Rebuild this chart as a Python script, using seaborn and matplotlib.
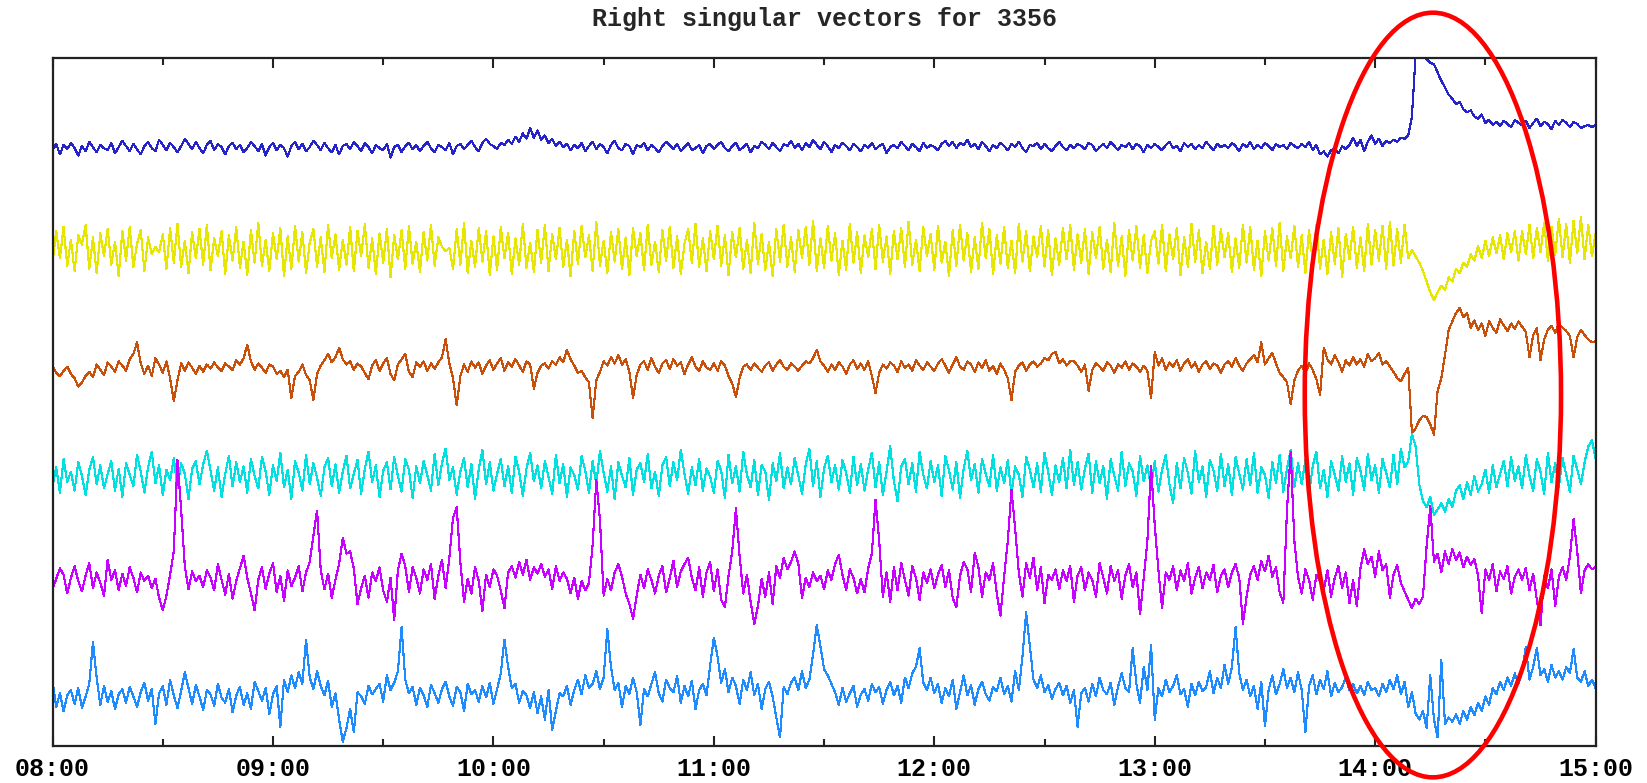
import matplotlib
matplotlib.use("Agg")
import matplotlib.pyplot as plt
from matplotlib.patches import Ellipse
import numpy as np
import pandas as pd
import seaborn as sns

# ---------------------------------------------------------------------------
# Data (one value per minute, 08:00 .. 15:00, deviation of each vector)
# ---------------------------------------------------------------------------
TITLE = "Right singular vectors for 3356"
HOUR_LABELS = ["08:00", "09:00", "10:00", "11:00", "12:00", "13:00", "14:00", "15:00"]
START_HOUR = 8

BLUE = [
    -2, 4, -6, 3, -1, 5, 0, -7, 2, -3, 6, 1, -4, 3, 0, -2, 5, -5, 1, 7,
    2, -3, 4, -1, -6, 2, 6, 0, -3, 8, 3, -2, 5, 1, -4, 2, 9, 4, -1, 6,
    0, -5, 3, 7, -2, 4, 1, -6, 2, 5, -1, 3, -4, 0, 6, 2, -3, 4, -7, 1,
    5, -2, 3, 0, -8, 2, 6, -1, 4, -3, 1, 7, 3, -2, 5, 0, -4, 3, -6, 2,
    4, -1, 6, 2, -3, 5, 1, -5, 3, 0, -2, 4, -9, 1, 3, -4, 2, 5, -1, 3,
    -3, 2, 6, 0, -4, 3, 1, -2, 5, -6, 2, 4, -1, 3, 7, 1, -3, 5, 9, 4,
    2, -1, 5, 3, 8, 4, 11, 6, 14, 9, 19, 10, 17, 8, 12, 5, 9, 2, 6, 1,
    4, -2, 3, 0, 5, -3, 2, 6, -1, 4, 1, -5, 3, 7, 0, -2, 4, 2, -6, 3,
    1, 5, -2, 3, 0, -4, 2, 6, 3, -1, 4, -3, 1, 5, -2, 0, 3, -5, 2, 4,
    -1, 3, 6, 0, -3, 2, 5, -2, 1, 4, -4, 2, 0, 6, 3, -1, 5, 1, -3, 4,
    2, 7, 0, 4, -2, 5, 1, 8, 3, -1, 6, 2, -4, 3, 0, 5, 2, -2, 4, 1,
    -3, 3, 0, 5, -1, 2, 4, -5, 1, 3, 0, 6, 2, -2, 4, 1, -3, 5, 0, 3,
    1, -2, 4, 7, 2, 6, 0, 5, 3, 8, 1, 4, -1, 6, 2, -3, 3, 0, 5, 2,
    -2, 4, 1, 6, 0, -4, 3, 2, 5, -1, 4, 0, -3, 2, 6, 1, -2, 3, 0, 4,
    2, -1, 5, 3, -3, 1, 4, 0, 6, 2, -2, 3, 1, 5, -1, 4, 2, -4, 3, 0,
    4, 1, -2, 3, 6, 0, 2, -3, 5, 1, 4, -1, 3, 0, 6, 2, -2, 4, 1, 3,
    0, 5, 2, -3, 4, 1, 6, -1, 3, 0, 5, 2, -2, 4, 1, 3, -1, 5, 2, 0,
    4, 1, 6, -2, 3, -6, -3, -8, -2, 0, -5, 2, -1, 3, 10, 2, 8, -3, 6, 12,
    4, 9, 2, 7, 5, 8, 6, 10, 9, 12, 30, 88, 90, 86, 85, 81, 80, 72, 64, 58,
    51, 47, 42, 44, 37, 34, 36, 30, 28, 32, 24, 27, 22, 25, 21, 26, 23, 20, 27, 24,
    22, 26, 19, 24, 28, 21, 25, 23, 18, 26, 22, 27, 24, 20, 25, 23, 19, 21, 22, 20,
    22,
]

YELLOW = [
    -12, 18, -8, 22, -15, 10, -20, 14, 5, 24, -18, 12, -22, 16, -6, 20, -14, 8, -25, 18,
    -10, 22, -16, 6, 19, -20, 12, -4, 3, -2, 15, -18, 21, -12, 25, -16, 9, -22, 17, -8,
    20, -14, 24, -19, 11, -6, 18, -23, 14, -10, 22, -17, 8, -24, 19, -12, 26, -15, 10, -20,
    16, -9, 21, -25, 13, -18, 23, -11, 17, -22, 7, 20, -16, 12, -21, 24, -8, 15, -19, 10,
    -14, 22, -20, 18, -6, 25, -17, 11, -23, 16, -12, 20, -26, 14, -9, 19, -18, 23, -13, 8,
    -21, 17, -10, 24, -15, 12, 3, -1, 2, -18, 20, -14, 26, -22, 9, -16, 21, -11, 18, -24,
    13, -19, 22, -8, 16, -23, 11, -14, 25, -17, 7, -21, 19, -12, 24, -20, 15, -9, 21, -16,
    10, -25, 18, -13, 23, -7, 14, -20, 27, -15, 9, -22, 17, -11, 20, -18, 12, -24, 21, -6,
    16, -19, 24, -14, 8, -21, 19, -10, 22, -17, 13, -23, 6, 20, -12, 25, -16, 11, -20, 18,
    -9, 23, -15, 14, -24, 17, -7, 21, -18, 10, -22, 26, -13, 15, -19, 8, -25, 20, -11, 24,
    -16, 12, -21, 19, -8, 22, -14, 28, -20, 11, -17, 23, -10, 16, -24, 9, -19, 25, -12, 17,
    -22, 14, -7, 20, -18, 24, -11, 13, -23, 18, -9, 21, -16, 27, -14, 10, -20, 22, -6, 15,
    -19, 23, -12, 8, -25, 19, -15, 24, -10, 16, -21, 12, -18, 26, -8, 20, -23, 14, -13, 22,
    -17, 9, -22, 25, -11, 18, -20, 13, -7, 23, -16, 19, -24, 11, -14, 21, -9, 24, -19, 15,
    -12, 20, -23, 17, -8, 22, -18, 10, -21, 26, -15, 13, -25, 19, -10, 23, -17, 14, -22, 9,
    18, -13, 24, -20, 15, -9, 21, -24, 12, -16, 25, -11, 19, -22, 8, -18, 23, -14, 20, -7,
    16, -21, 11, -17, 24, -12, 22, -19, 9, -25, 18, -10, 21, -15, 26, -20, 13, -8, 23, -16,
    14, -22, 19, -11, 24, -18, 10, -23, 17, -13, 21, -26, 15, -9, 22, -17, 12, -20, 25, -14,
    19, -10, 23, -18, 27, -15, 20, -12, 24, -8, 0, -6, -12, -20, -30, -40, -48, -40, -34, -38,
    -26, -30, -18, -22, -12, -16, -4, -10, 4, -8, 9, -6, 12, -3, 14, -9, 16, -2, 18, -10,
    18, -4, 24, -8, 21, -2, 26, -10, 22, -5, 30, -7, 25, -12, 28, -3, 31, -9, 24, -6,
    16,
]

ORANGE = [
    2, -5, -8, -3, 1, -6, -10, -18, -14, -8, -4, -9, 3, -2, -7, 5, 1, -4, 6, 2,
    -3, 8, 13, 24, 4, -6, 2, -8, 9, 3, -5, 6, -10, -32, -12, 4, -3, 5, 0, -6,
    2, -4, 3, -1, 5, 0, -3, 4, 1, -2, 7, 3, 9, 22, 6, -2, 4, 0, -5, 3,
    1, -6, -3, -9, -2, -29, -8, -4, 3, -7, -12, -31, -6, 2, 7, 13, 5, 10, 19, 8,
    3, 6, -2, 4, 1, -5, -11, 2, 7, -3, 4, 9, -6, -12, 3, 8, 13, -4, -9, 5,
    1, 6, -3, 4, -1, 5, 10, 27, 4, -10, -36, -8, 3, -4, 6, 0, 5, -6, 2, 7,
    -2, 4, 9, -3, 5, 1, 8, 2, -4, 6, 3, -20, -5, 2, 4, -1, 6, 3, 10, 5,
    17, 8, 2, -5, -3, -9, -14, -48, -12, -4, 6, 2, 10, 4, 12, 3, 8, -4, -29, -7,
    3, 6, -2, 9, 1, -5, 4, 7, -1, 8, 2, 5, -6, 3, 10, 1, -3, 6, 0, -2,
    4, -3, 6, 2, -8, -15, -28, -10, 1, 3, -2, 4, 0, -4, 2, 5, -3, 3, 7, 1,
    -2, 4, 1, -3, 2, 6, 4, 9, 17, 6, 2, -4, 3, -2, 5, 1, -6, 3, 7, -1,
    4, -2, 6, -8, -24, -5, 3, -1, 5, 2, -4, 6, 0, 3, -3, 7, 2, -2, 5, 1,
    -3, 4, 8, 2, -5, 3, 10, 1, -2, 6, 3, -4, 5, 0, 7, -3, 2, -6, 4, -2,
    -10, -31, -4, 2, 5, -3, 3, 6, 1, 4, 9, 7, 13, 15, 4, 8, 2, 6, 6, 2,
    -4, 3, -22, -2, 4, 1, -3, 5, 2, -5, 3, 0, 6, -2, 4, 1, -4, 2, -3, -29,
    15, 2, 9, -2, 5, 1, 7, -3, 4, 8, 0, 5, -4, 3, 6, -1, 4, 2, -5, 3,
    6, 1, 9, 2, -3, 4, 8, 12, 5, 24, 3, 9, 14, 4, -5, -9, -14, -35, -12, -3,
    2, -6, 4, -2, -11, -26, 19, 8, 3, 12, 5, -4, 7, 2, 10, 3, 8, 1, 13, 6,
    9, 14, 3, 6, 1, -4, -10, -13, -6, 0, -62, -58, -50, -46, -47, -54, -64, -22, -10, 12,
    36, 44, 52, 57, 48, 52, 38, 45, 36, 42, 30, 44, 38, 33, 46, 40, 35, 42, 37, 44,
    39, 34, 10, 31, 38, 7, 27, 36, 40, 33, 42, 38, 35, 30, 10, 29, 36, 31, 27, 24,
    25,
]

CYAN = [
    -8, 10, -14, 18, -4, 6, -12, 15, 2, -16, 8, 20, -6, 12, -10, 4, 16, -12, 9, -18,
    14, 3, -8, 22, 6, -14, 10, 25, -5, 12, -16, 8, -2, 19, -10, 14, 4, -20, 9, 16,
    -6, 13, 26, 7, -12, 10, -18, 4, 21, -8, 15, -4, 11, -14, 18, 2, -10, 20, 6, -16,
    12, -3, 24, -9, 8, -20, 16, 5, -12, 22, -6, 14, 0, -17, 10, 19, -8, 13, -14, 6,
    21, -10, 4, 17, -15, 9, 25, -4, 12, -18, 7, 15, -11, 20, 2, -13, 18, 8, -19, 11,
    -5, 16, 3, -12, 23, -7, 14, 28, -2, 10, -16, 6, 19, -9, 13, -20, 8, 27, -6, 15,
    -12, 4, 18, -8, 11, -14, 20, 6, -17, 9, 24, -3, 12, -10, 16, 1, -15, 22, -5, 13,
    -18, 10, 3, -11, 21, 7, -14, 16, -6, 26, 5, -13, 11, -20, 15, 2, -9, 19, -16, 8,
    14, -4, 23, -10, 6, -17, 12, 20, -8, 15, -2, 27, 4, -15, 10, -7, 18, -12, 9, 1,
    -14, 16, 7, -19, 22, -5, 11, -13, 25, 3, -9, 17, -16, 12, 6, -21, 14, -3, 24, -10,
    10, -6, 19, 2, -15, 13, 28, -8, 16, -18, 9, 21, -4, 12, -11, 17, 5, -14, 20, -7,
    13, -12, 8, 24, -9, 15, -16, 6, 30, -3, -22, 11, 18, -6, 14, -13, 25, 3, -10, 16,
    -4, 12, -17, 21, 7, -11, 15, -19, 9, 26, -2, 13, -14, 18, 4, -8, 22, -12, 10, -5,
    17, -15, 11, 3, -18, 20, 8, -9, 14, -13, 24, 6, -16, 12, -4, 19, -10, 27, -7, 15,
    -11, 9, 23, -14, 16, -5, 11, -20, 18, 2, -12, 25, -8, 14, 6, -17, 21, -3, 12, -9,
    16, -13, 8, 22, -6, -24, 14, -10, 19, 5, -15, 26, -4, 11, -18, 17, 7, -12, 23, -8,
    13, -16, 20, 4, -11, 18, -7, 24, -14, 10, 3, -19, 15, -5, 22, -13, 9, 27, -9, 14,
    -6, 17, -15, 11, 25, -10, 8, -18, 16, 3, -12, 21, -4, 14, -16, 19, 7, -11, 23, -2,
    12, -14, 18, 5, -9, 22, -6, 28, 10, 16, 42, 30, -6, -22, -28, -18, -35, -30, -24, -32,
    -20, -28, -12, -7, -20, -4, -16, 2, -13, -6, 8, -14, 12, -9, 4, 16, -8, 20, -3, 11,
    -10, 22, 2, -12, 18, 6, -15, 24, -4, 14, -9, 19, 3, -13, 21, 8, -6, 15, 30, 36,
    18,
]

MAGENTA = [
    -6, 4, 14, 8, -10, 5, 16, 2, -8, 7, 19, -5, 10, 0, -12, 22, 3, 12, -7, 9,
    -3, 15, 5, -9, 10, 2, 7, -5, 4, -14, -26, -12, 8, 30, 117, 70, 16, -6, 11, 2,
    7, -4, 12, 5, -7, 18, 3, -11, 9, -15, 2, 14, 26, 5, -10, -26, 3, 15, -6, 9,
    19, -9, 7, -17, 12, -3, 5, 16, -8, 10, 20, 45, 69, 12, -6, 9, -14, 3, 18, 43,
    28, 30, 14, -20, -5, 7, -14, 10, 2, 15, -7, -18, 5, -35, 12, 28, 16, -9, 15, 5,
    -10, 13, 3, 18, -15, 7, 22, -5, 24, 62, 72, 20, -18, 4, -10, 15, 2, -27, 8, -4,
    13, 7, -7, -24, 10, 16, 5, 20, 8, 22, 3, 15, 9, 18, 6, 13, -6, 16, 2, 10,
    4, -10, 5, -15, 2, -7, 0, 36, 98, 60, -12, 4, -7, 10, 18, 6, -10, -20, -34, -12,
    8, -5, 13, 3, -10, 7, 16, -9, 5, 21, -4, 11, 18, 24, 5, -7, 15, -13, 10, 20,
    -8, 13, -16, -23, 7, 30, 71, 26, -10, 8, -18, -39, -22, 4, -13, 10, -20, 16, 5, 24,
    13, 20, 30, 18, -14, 5, -4, 10, 2, 7, -6, 12, 3, 18, 27, 8, -7, 13, 5, -10,
    4, -9, 14, 28, 79, 40, -13, 10, -18, 15, -7, 19, 3, -12, 16, 5, -16, 10, 0, 13,
    -5, 8, 17, -4, 12, -14, -23, 7, 20, 13, -9, 29, 15, -13, 10, 3, 19, -10, -31, 6,
    40, 89, 52, 10, -13, 19, 5, 24, -7, 15, -19, 8, 3, 13, -6, 12, 2, 16, -18, 7,
    15, -7, 10, 3, -13, 19, 5, -10, 16, 2, 12, -15, 7, 18, -4, 10, -30, 5, 40, 111,
    55, 12, -24, 10, 3, 16, -7, 12, 2, 19, -10, 5, 15, -5, 10, 3, 17, -9, 7, 13,
    -4, 10, 18, 5, -39, -13, 8, 16, 3, 21, 11, 26, 6, 15, -9, -19, 70, 125, 40, 6,
    -10, 13, 3, -16, 8, 2, -7, 12, -13, 5, 16, -5, 10, -19, 3, -22, 14, 32, 18, 25,
    6, 30, 12, 18, -14, 8, 17, 0, -8, -16, -24, -15, -20, -13, 35, 73, 20, 28, 10, 30,
    18, 32, 22, 29, 15, 25, 17, 23, 7, -29, 13, 3, 18, -8, 11, 4, 16, -10, 6, 13,
    3, 14, -7, 9, -16, -40, 7, -5, 13, -22, 6, 15, 3, 25, 61, 30, -10, 12, 18, 13,
    15,
]

LIGHTBLUE = [
    17, -8, 5, -12, 3, 8, -5, 10, -9, 2, 14, 54, 20, -6, 12, -3, 7, -10, 4, 9,
    -4, 11, 2, -8, 6, 15, -2, 9, -24, 5, 12, -6, 18, 3, -9, 7, 25, 10, -5, 13,
    2, -11, 8, 4, -7, 14, 1, -4, 9, -13, 3, 11, -6, 5, -10, 16, 7, -2, 10, -15,
    4, 12, -27, 18, 6, 22, 10, 25, 14, 56, 20, 9, 26, 12, 3, 17, -8, 5, -20, -41,
    -28, -10, -32, 6, 2, -5, 12, 4, 9, 14, -3, 22, 8, 15, 26, 68, 18, 5, 11, -6,
    10, 3, -8, 13, 5, -4, 9, 16, 2, -7, 11, 6, -12, 14, 4, 8, -3, 12, 1, 15,
    -5, 9, 24, 56, 30, 10, 14, -4, 7, 3, -9, 6, -14, 2, -20, 8, -30, -12, 5, 2,
    12, -6, 8, 18, 4, 22, 10, 14, 26, 9, 20, 66, 30, 8, 15, -8, 12, 4, 20, 6,
    -25, 9, 2, 14, 25, 5, -3, 18, 10, 6, 21, -4, 12, 2, 17, -10, 8, 14, 3, 32,
    58, 40, 15, 28, 6, 20, 12, -5, 18, 8, 25, 3, 14, -10, 9, 16, 2, -18, -37, 11,
    4, 15, 20, 8, 26, 10, 18, 42, 70, 50, 28, 22, 14, 6, -6, 10, -3, 5, 12, -8,
    4, 9, -2, 14, 6, 11, -5, 8, 16, 3, 12, -4, 20, 10, 24, 30, 48, 15, 8, 20,
    5, 14, -4, 10, 2, 18, -10, 6, 22, 3, 13, -6, 9, 16, 4, -2, 11, 7, 20, 4,
    12, -3, 26, 8, 40, 82, 50, 18, 10, 22, 6, 13, 0, 9, 15, 3, 12, -4, 8, -27,
    5, 10, -3, 14, 2, 20, 8, 4, 15, -6, 11, 24, 10, 6, 48, 14, -4, 30, 8, 51,
    -20, 10, 2, 18, 6, 12, 22, 4, 9, -8, 14, 3, 16, 7, 11, 26, 5, 20, 10, 32,
    14, 30, 68, 24, 8, 18, 2, 12, -10, 16, -26, 8, 22, 4, 14, 28, 10, 20, 6, 25,
    8, -32, 12, 22, 4, 18, 9, 26, 2, 15, 6, 11, 20, 8, 14, 5, 12, 3, 16, 8,
    10, 2, 14, 6, 18, 9, 22, 4, 16, -8, 6, -14, -20, -12, -28, 22, -20, -37, 37, -24,
    -18, -22, -15, -24, -12, -20, -8, -16, -4, -12, 2, -6, 10, 4, 16, 8, 20, 12, 24, 14,
    26, 49, 18, 30, 48, 22, 28, 16, 32, 20, 26, 18, 30, 24, 47, 20, 16, 26, 12, 18,
    10,
]

NAMES = ["v1", "v2", "v3", "v4", "v5", "v6"]
COLORS = ["#2424c8", "#e6e600", "#c8500a", "#00e0e0", "#c800ff", "#1e8cff"]
# vertical stacking of the vectors (baseline of each trace)
OFFSETS = [569, 472, 360, 255, 155, 45]


def build_frame() -> pd.DataFrame:
    frames = []
    for name, vals, off in zip(NAMES, [BLUE, YELLOW, ORANGE, CYAN, MAGENTA, LIGHTBLUE], OFFSETS):
        v = np.asarray(vals, dtype=float)
        assert len(v) == 421, (name, len(v))
        frames.append(pd.DataFrame({
            "hour": START_HOUR + np.arange(len(v)) / 60.0,
            "value": v + off,
            "vector": name,
        }))
    return pd.concat(frames, ignore_index=True)


def main():
    df = build_frame()

    sns.set_style("ticks")
    plt.rcParams["font.family"] = ["Liberation Mono", "DejaVu Sans Mono"]

    fig = plt.figure(figsize=(16.47, 7.83), dpi=100)
    ax = fig.add_axes([0.0319, 0.0475, 0.9369, 0.8787])

    sns.lineplot(
        data=df, x="hour", y="value", hue="vector",
        palette=dict(zip(NAMES, COLORS)), estimator=None, sort=False,
        legend=False, linewidth=0.8, antialiased=False, ax=ax,
    )

    ax.set_xlim(8, 15)
    ax.set_ylim(0, 655)
    ax.set_xticks(range(8, 16))
    ax.set_xticklabels(HOUR_LABELS)
    ax.set_xticks(np.arange(8.5, 15, 1), minor=True)
    ax.set_yticks([])
    ax.set_xlabel("")
    ax.set_ylabel("")
    ax.tick_params(axis="x", which="both", direction="in", top=True, bottom=True,
                   colors="#222222", labelcolor="black", labelsize=18, pad=8)
    ax.tick_params(axis="x", which="major", length=7, width=1.5)
    ax.tick_params(axis="x", which="minor", length=5, width=1.5)
    for s in ax.spines.values():
        s.set_color("#222222")
        s.set_linewidth(1.6)
    for lab in ax.get_xticklabels():
        lab.set_fontweight("bold")

    fig.text(0.5005, 1 - 19 / 783, TITLE, ha="center", va="center",
             fontsize=18, fontweight="bold")

    # red annotation ellipse around the event
    ell = Ellipse((0.8700, 0.4955), 0.1556, 0.9766, transform=fig.transFigure,
                  fill=False, edgecolor="#ff0000", linewidth=3.3, zorder=10)
    fig.add_artist(ell)

    fig.savefig("out.png", dpi=100)


if __name__ == "__main__":
    main()
